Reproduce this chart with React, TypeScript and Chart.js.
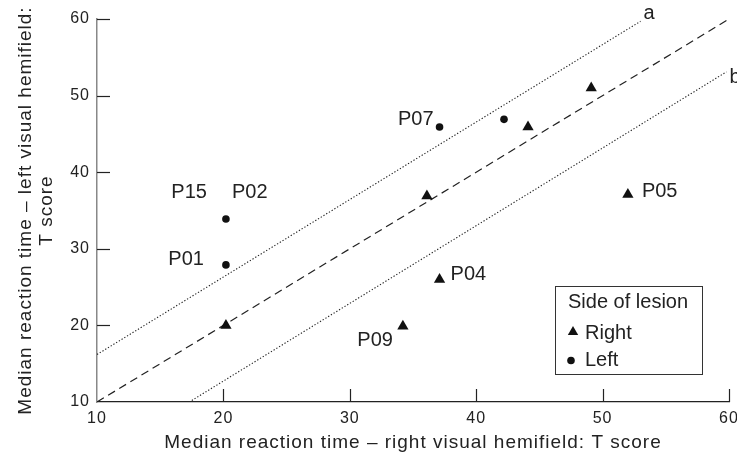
import React, { useEffect, useRef } from "react";
import { Chart, registerables } from "chart.js";

Chart.register(...registerables);

const FONT = '"Liberation Sans", Arial, Helvetica, sans-serif';

// ---- data ----
const xTitle = "Median reaction time – right visual hemifield: T score";
const yTitle = ["Median reaction time – left visual hemifield:", "T score"];
const xTicks = [10, 20, 30, 40, 50, 60];
const yTicks = [10, 20, 30, 40, 50, 60];

const rightX = [20.2, 36.1, 37.1, 34.2, 44.1, 49.1, 52.0];
const rightY = [20.0, 36.9, 26.0, 19.9, 45.9, 51.0, 37.1];
const leftX = [20.2, 20.2, 37.1, 42.2];
const leftY = [33.9, 27.9, 45.9, 46.9];

const identityX = [10, 60];
const identityY = [10, 60];
const lineAX = [10, 53.0];
const lineAY = [16.2, 59.7];
const lineBX = [17.5, 59.8];
const lineBY = [10.2, 53.1];
const lineNames = ["a", "b"];

const pointLabels = ["P15", "P02", "P01", "P07", "P05", "P04", "P09"];
const labelX = [20.2, 20.2, 20.2, 37.1, 52.0, 37.1, 34.2];
const labelY = [33.9, 33.9, 27.9, 45.9, 37.1, 26.0, 19.9];

const legendTitle = "Side of lesion";
const legendLabels = ["Right", "Left"];

// ---- styles (pixel offsets of annotations) ----
const labelStyle: { dx: number; dy: number; align: CanvasTextAlign }[] = [
  { dx: -19, dy: -26, align: "right" },
  { dx: 6, dy: -26, align: "left" },
  { dx: -22, dy: -5, align: "right" },
  { dx: -6, dy: -8, align: "right" },
  { dx: 14, dy: -3, align: "left" },
  { dx: 11, dy: -5, align: "left" },
  { dx: -10, dy: 14, align: "right" },
];
const lineNameStyle = [
  { dx: 3, dy: -8 },
  { dx: 3, dy: 6 },
];

const toPts = (xs: number[], ys: number[]) => xs.map((x, i) => ({ x, y: ys[i] }));

const annotPlugin = {
  id: "annot",
  beforeDraw(chart: any) {
    chart.ctx.letterSpacing = "1px";
  },
  afterDraw(chart: any) {
    const { ctx, chartArea } = chart;
    const xs = chart.scales.x;
    const ys = chart.scales.y;
    ctx.save();
    ctx.letterSpacing = "0px";
    // inward tick marks
    ctx.strokeStyle = "#222";
    ctx.lineWidth = 1.2;
    ys.ticks.forEach((t: any) => {
      if (t.value === ys.min) return;
      const py = Math.round(ys.getPixelForValue(t.value)) + 0.5;
      ctx.beginPath();
      ctx.moveTo(chartArea.left, py);
      ctx.lineTo(chartArea.left + 13, py);
      ctx.stroke();
    });
    xs.ticks.forEach((t: any) => {
      if (t.value === xs.min) return;
      const px = Math.round(xs.getPixelForValue(t.value)) + 0.5;
      ctx.beginPath();
      ctx.moveTo(px, chartArea.bottom);
      ctx.lineTo(px, chartArea.bottom - 13);
      ctx.stroke();
    });

    // point labels
    ctx.fillStyle = "#222";
    ctx.font = `20px ${FONT}`;
    ctx.textBaseline = "middle";
    pointLabels.forEach((lab, i) => {
      const px = xs.getPixelForValue(labelX[i]);
      const py = ys.getPixelForValue(labelY[i]);
      const s = labelStyle[i];
      ctx.textAlign = s.align;
      ctx.fillText(lab, px + s.dx, py + s.dy);
    });

    // line names a, b
    const ends = [
      { x: lineAX[1], y: lineAY[1] },
      { x: lineBX[1], y: lineBY[1] },
    ];
    ctx.textAlign = "left";
    lineNames.forEach((n, i) => {
      const px = xs.getPixelForValue(ends[i].x);
      const py = ys.getPixelForValue(ends[i].y);
      ctx.fillText(n, px + lineNameStyle[i].dx, py + lineNameStyle[i].dy);
    });

    // legend box
    const bx = chartArea.right - 174;
    const by = chartArea.bottom - 116;
    const bw = 147;
    const bh = 88;
    ctx.strokeStyle = "#333";
    ctx.lineWidth = 1;
    ctx.strokeRect(Math.round(bx) + 0.5, Math.round(by) + 0.5, bw, bh);
    ctx.fillStyle = "#222";
    ctx.textAlign = "left";
    ctx.fillText(legendTitle, bx + 13, by + 16);
    // triangle
    const tx = bx + 18;
    const ty = by + 46;
    const r = 6;
    ctx.fillStyle = "#111";
    ctx.beginPath();
    ctx.moveTo(tx, ty - r);
    ctx.lineTo(tx + (r * Math.sqrt(3)) / 2, ty + r / 2);
    ctx.lineTo(tx - (r * Math.sqrt(3)) / 2, ty + r / 2);
    ctx.closePath();
    ctx.fill();
    ctx.beginPath();
    ctx.arc(bx + 16, by + 74.5, 3.8, 0, Math.PI * 2);
    ctx.fill();
    ctx.fillStyle = "#222";
    ctx.fillText(legendLabels[0], bx + 30, by + 47);
    ctx.fillText(legendLabels[1], bx + 30, by + 74);
    ctx.restore();
  },
};

export default function App() {
  const ref = useRef<HTMLCanvasElement | null>(null);
  useEffect(() => {
    if (!ref.current) return;
    Chart.defaults.font.family = FONT;
    const lineCommon = {
      showLine: true,
      pointRadius: 0,
      borderColor: "#222",
      fill: false,
      tension: 0,
    };
    const chart = new Chart(ref.current, {
      type: "scatter",
      data: {
        datasets: [
          {
            label: "Right",
            data: toPts(rightX, rightY),
            pointStyle: "triangle",
            pointRadius: 6.5,
            backgroundColor: "#111",
            borderColor: "#111",
            borderWidth: 0,
          },
          {
            label: "Left",
            data: toPts(leftX, leftY),
            pointStyle: "circle",
            pointRadius: 3.8,
            backgroundColor: "#111",
            borderColor: "#111",
            borderWidth: 0,
          },
          {
            ...lineCommon,
            label: "identity",
            data: toPts(identityX, identityY),
            borderDash: [8, 5],
            borderWidth: 1.2,
          },
          {
            ...lineCommon,
            label: "a",
            data: toPts(lineAX, lineAY),
            borderDash: [1.3, 1.9],
            borderWidth: 1.1,
          },
          {
            ...lineCommon,
            label: "b",
            data: toPts(lineBX, lineBY),
            borderDash: [1.3, 1.9],
            borderWidth: 1.1,
          },
        ] as any,
      },
      options: {
        animation: false,
        responsive: false,
        events: [],
        layout: { padding: { top: 19, right: 8, left: 0, bottom: 0 } },
        plugins: {
          legend: { display: false },
          tooltip: { enabled: false },
        },
        scales: {
          x: {
            type: "linear",
            min: 10,
            max: 60,
            afterBuildTicks: (s: any) => {
              s.ticks = xTicks.map((v) => ({ value: v }));
            },
            afterFit: (s: any) => {
              s.height = 53;
              s.paddingLeft = 0;
              s.paddingRight = 0;
            },
            ticks: {
              font: { size: 16, family: FONT },
              color: "#222",
              padding: 7,
              maxRotation: 0,
              autoSkip: false,
            },
            grid: { display: false, drawTicks: false },
            border: { display: true, color: "#222", width: 1.3 },
            title: {
              display: true,
              text: xTitle,
              color: "#222",
              font: { size: 19, family: FONT, lineHeight: 1.2 },
              padding: { top: 0, bottom: 1 },
            },
          },
          y: {
            type: "linear",
            min: 10,
            max: 60,
            afterBuildTicks: (s: any) => {
              s.ticks = yTicks.map((v) => ({ value: v }));
            },
            afterFit: (s: any) => {
              s.width = 97;
              s.paddingTop = 0;
              s.paddingBottom = 0;
            },
            ticks: {
              font: { size: 16, family: FONT },
              color: "#222",
              padding: 7,
              autoSkip: false,
            },
            grid: { display: false, drawTicks: false },
            border: { display: true, color: "#888", width: 1.5 },
            title: {
              display: true,
              text: yTitle,
              color: "#222",
              font: { size: 19, family: FONT, lineHeight: 1.07 },
              padding: { top: 16, bottom: 0 },
            },
          },
        },
      },
      plugins: [annotPlugin],
    } as any);
    return () => chart.destroy();
  }, []);
  return (
    <div style={{ position: "absolute", left: 0, top: 0, width: 737, height: 455, background: "#fff" }}>
      <canvas ref={ref} width={737} height={455} style={{ display: "block" }} />
    </div>
  );
}
